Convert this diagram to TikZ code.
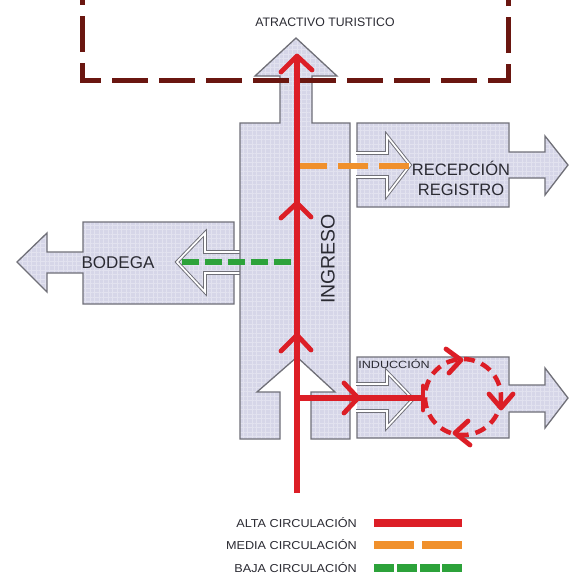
\documentclass[tikz,border=0pt]{standalone}
\usepackage{fontspec}
\setmainfont{Liberation Sans}
\usetikzlibrary{patterns.meta}
\definecolor{lav}{HTML}{D6D6E8}
\definecolor{lavgrid}{HTML}{E2E2EF}
\definecolor{edgec}{HTML}{707078}
\definecolor{altared}{HTML}{DC1E26}
\definecolor{mediaor}{HTML}{F0902C}
\definecolor{bajagr}{HTML}{2CA23A}
\definecolor{bordr}{HTML}{6A1610}
\definecolor{txt}{HTML}{2A2A32}
\newcommand\legtxt[1]{\scalebox{1.1}[1]{#1}}
\begin{document}
\begin{tikzpicture}[x=1pt,y=-1pt,
  zonefill/.style={fill=lav,draw=none,postaction={pattern={Hatch[angle=0,distance=4.5pt,line width=0.3pt]},pattern color=lavgrid}},
  zoneedge/.style={draw=edgec,line width=1.3pt,line join=miter},
  hollowout/.style={draw=edgec,line width=3.6pt,line join=miter},
  hollowin/.style={draw=white,line width=1.7pt,line join=miter},
  alta/.style={draw=altared,line width=6.5pt},
  chev/.style={draw=altared,line width=4.8pt,line cap=round,line join=round},
  media/.style={draw=mediaor,line width=6pt,dash pattern=on 30pt off 11pt},
  baja/.style={draw=bajagr,line width=6pt,dash pattern=on 17pt off 6pt},
  ring/.style={draw=altared,line width=4.5pt,dash pattern=on 11pt off 7pt},
  border/.style={draw=bordr,line width=5pt,dash pattern=on 36pt off 11pt,dash phase=31pt},
  lbl/.style={text=txt,inner sep=0pt},
]
\useasboundingbox (0,0) rectangle (570,576);
\fill[white] (0,0) rectangle (570,576);

% ---- BODEGA zone ----
\path[zonefill] (234,222) -- (83,222) -- (83,252) -- (47,252) -- (47,233) -- (17,262)
  -- (47,292) -- (47,273) -- (83,273) -- (83,304) -- (234,304) -- cycle;
\path[zoneedge] (234,252) -- (234,222) -- (83,222) -- (83,252) -- (47,252) -- (47,233) -- (17,262)
  -- (47,292) -- (47,273) -- (83,273) -- (83,304) -- (234,304) -- (234,273);
\path[zonefill] (241,252) -- (205,252) -- (205,233) -- (177,262) -- (205,292) -- (205,273) -- (241,273) -- cycle;
\path[hollowout] (240,252) -- (205,252) -- (205,233) -- (177,262) -- (205,292) -- (205,273) -- (240,273);
\path[hollowin] (240,252) -- (205,252) -- (205,233) -- (177,262) -- (205,292) -- (205,273) -- (240,273);

% ---- RECEPCION zone ----
\path[zonefill] (357,123) -- (509,123) -- (509,152) -- (545,152) -- (545,136) -- (568,165)
  -- (545,195) -- (545,178) -- (509,178) -- (509,207) -- (357,207) -- cycle;
\path[zoneedge] (357,153) -- (357,123) -- (509,123) -- (509,152) -- (545,152) -- (545,136) -- (568,165)
  -- (545,195) -- (545,178) -- (509,178) -- (509,207) -- (357,207) -- (357,177);
\path[hollowout] (356,153) -- (387,153) -- (387,136) -- (410,165) -- (387,195) -- (387,177) -- (356,177);
\path[hollowin] (356,153) -- (387,153) -- (387,136) -- (410,165) -- (387,195) -- (387,177) -- (356,177);

% ---- INDUCCION zone ----
\path[zonefill] (357,357) -- (509,357) -- (509,385) -- (545,385) -- (545,368) -- (568,398)
  -- (545,428) -- (545,412) -- (509,412) -- (509,438) -- (357,438) -- cycle;
\path[zoneedge] (357,384) -- (357,357) -- (509,357) -- (509,385) -- (545,385) -- (545,368) -- (568,398)
  -- (545,428) -- (545,412) -- (509,412) -- (509,438) -- (357,438) -- (357,411);
\path[hollowout] (356,384) -- (387,384) -- (387,372) -- (413,399) -- (387,427) -- (387,411) -- (356,411);
\path[hollowin] (356,384) -- (387,384) -- (387,372) -- (413,399) -- (387,427) -- (387,411) -- (356,411);

% ---- INGRESO body ----
\path[zonefill] (296,38) -- (337,76) -- (312,76) -- (312,123) -- (350,123) -- (350,439)
  -- (311,439) -- (311,392) -- (335,392) -- (297,357) -- (257,392) -- (280,392) -- (280,439)
  -- (240,439) -- (240,123) -- (280,123) -- (280,76) -- (255,76) -- cycle;
\path[zoneedge] (296,38) -- (337,76) -- (312,76) -- (312,123) -- (350,123) -- (350,439)
  -- (311,439) -- (311,392) -- (335,392) -- (297,357) -- (257,392) -- (280,392) -- (280,439)
  -- (240,439) -- (240,123) -- (280,123) -- (280,76) -- (255,76) -- cycle;

% ---- dashed boundary of the attraction ----
\path[border] (82,0) -- (82,80) -- (508,80) -- (508,0);

% ---- texts ----
\node[lbl,font=\fontsize{12.3}{14}\selectfont] (atr) at (325,22) {ATRACTIVO TURISTICO};
\node[lbl,font=\fontsize{17}{20}\selectfont] (bod) at (118,263) {BODEGA};
\node[lbl,font=\fontsize{16.5}{20}\selectfont,align=center] (rec) at (461,178) {RECEPCIÓN\\REGISTRO};
\node[lbl,font=\fontsize{19.5}{22}\selectfont,rotate=90] (ing) at (328,259) {INGRESO};
\node[lbl,font=\fontsize{10.5}{12}\selectfont] (ind) at (394,364) {\scalebox{1.2}[1]{INDUCCIÓN}};

% ---- flows ----
\coordinate (gA) at (182,262);
\coordinate (gB) at (296,262);
\path[baja] (gA) -- (gB);
\coordinate (oA) at (297,166);
\coordinate (oB) at (410,166);
\path[media] (oA) -- (oB);

\coordinate (rBot) at (297,493);
\coordinate (rTop) at (297,56);
\coordinate (rJ) at (297,398);
\coordinate (rEnd) at (423,398);
\path[alta] (rBot) -- (rTop);
\path[alta] (rJ) -- (rEnd);
\path[chev] (423,386) -- (423,410);
\path[chev] (281,72) -- (rTop) -- (312,70);
\path[chev] (281,218) -- (297,203) -- (311,217);
\path[chev] (281,351) -- (297,335) -- (311,350);
\path[chev] (344,383) -- (358,398) -- (344,413);

% ---- induction ring ----
\coordinate (cc) at (463,397);
\path[ring] (cc) circle[radius=38];
\path[chev] (446,349) -- (461,360) -- (449,373);
\path[chev] (489,394) -- (501,408) -- (513,394);
\path[chev] (468,421) -- (455,433) -- (470,445);

% ---- legend ----
\node[lbl,anchor=east,font=\fontsize{11.5}{13}\selectfont] (l1) at (357,523) {\legtxt{ALTA CIRCULACIÓN}};
\node[lbl,anchor=east,font=\fontsize{11.5}{13}\selectfont] (l2) at (357,545) {\legtxt{MEDIA CIRCULACIÓN}};
\node[lbl,anchor=east,font=\fontsize{11.5}{13}\selectfont] (l3) at (357,568) {\legtxt{BAJA CIRCULACIÓN}};
\draw[altared,line width=8pt] (374,523) -- (462,523);
\draw[mediaor,line width=8pt] (374,545) -- (414,545) (422,545) -- (462,545);
\draw[bajagr,line width=8pt] (374,568) -- (394,568) (397,568) -- (417,568) (420,568) -- (440,568) (442,568) -- (462,568);
\end{tikzpicture}
\end{document}
